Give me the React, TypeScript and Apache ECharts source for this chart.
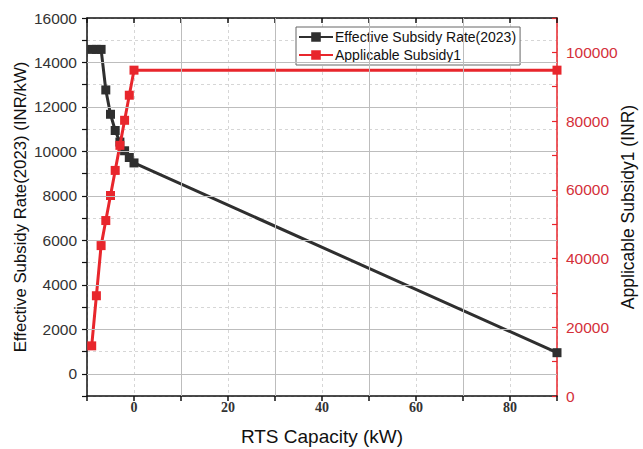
import React, { useEffect, useRef } from "react";
import * as echarts from "echarts";

const capacity = [-9, -8, -7, -6, -5, -4, -3, -2, -1, 0, 90];
const effectiveRate = [14588, 14588, 14588, 12764, 11670, 10941, 10420, 10029, 9725, 9482, 948];
const applicableSubsidy = [14588, 29176, 43764, 51058, 58352, 65646, 72940, 80234, 87528, 94822, 94822];
const majorGridY = [0, 2000, 4000, 6000, 8000, 10000, 12000, 14000];
const majorGridX = [10, 30, 50, 70];

const SANS = "'Liberation Sans', Arial, sans-serif";
const SERIF = "'Liberation Serif', 'Times New Roman', serif";
const BLACK = "#2f2f2f";
const RED = "#e8262c";
const RED_TEXT = "#d4303a";

export default function App() {
  const ref = useRef<HTMLDivElement>(null);
  useEffect(() => {
    if (!ref.current) return;
    const chart = echarts.init(ref.current, null, { renderer: "svg" });
    const pairs = (ys: number[]) => capacity.map((x, i) => [x, ys[i]]);
    chart.setOption({
      animation: false,
      backgroundColor: "#ffffff",
      textStyle: { fontFamily: SANS },
      grid: { left: 87, right: 86, top: 18, bottom: 53, containLabel: false, outerBoundsMode: "none" },
      legend: {
        data: ["Effective Subsidy Rate(2023)", "Applicable Subsidy1"],
        orient: "vertical",
        left: 296,
        top: 27,
        padding: [3, 4, 3, 2],
        itemWidth: 34,
        itemHeight: 12,
        itemGap: 4,
        borderColor: "#666",
        borderWidth: 1,
        backgroundColor: "#ffffff",
        textStyle: { fontSize: 14, color: "#111", fontFamily: SANS, padding: [0, 0, 0, -3] },
      },
      xAxis: [
        {
          type: "value",
          position: "bottom",
          min: -10,
          max: 90,
          interval: 10,
          name: "RTS Capacity (kW)",
          nameLocation: "middle",
          nameGap: 31,
          nameMoveOverlap: false,
          nameTextStyle: { fontSize: 19, color: "#111", fontFamily: SANS },
          axisLine: { onZero: false, lineStyle: { color: "#111", width: 1.5 } },
          axisTick: { show: true, inside: false, length: 5, lineStyle: { color: "#111", width: 1.5 } },
          axisLabel: {
            margin: 4,
            fontSize: 14,
            fontWeight: "bold",
            fontFamily: SERIF,
            color: "#333",
            formatter: (v: number) => (v % 20 === 0 ? String(v) : ""),
          },
          splitLine: { show: true, lineStyle: { color: "#d6d6d6", type: [3, 3], width: 1 } },
        },
        {
          type: "value",
          position: "top",
          min: -10,
          max: 90,
          interval: 10,
          axisLine: { show: true, onZero: false, lineStyle: { color: "#111", width: 1.5 } },
          axisTick: { show: true, inside: true, length: 5, lineStyle: { color: "#111", width: 1.5 } },
          axisLabel: { show: false },
          splitLine: { show: false },
        },
      ],
      yAxis: [
        {
          type: "value",
          position: "left",
          min: -1000,
          max: 16000,
          interval: 1000,
          name: "Effective Subsidy Rate(2023) (INR/kW)",
          nameLocation: "middle",
          nameRotate: 90,
          nameGap: 58,
          nameMoveOverlap: false,
          nameTextStyle: { fontSize: 16.8, color: "#111", fontFamily: SANS },
          axisLine: { show: true, onZero: false, lineStyle: { color: "#111", width: 1.5 } },
          axisTick: { show: true, inside: false, length: 5, lineStyle: { color: "#111", width: 1.2 } },
          axisLabel: {
            margin: 10,
            fontSize: 15.5,
            color: "#333",
            fontFamily: SANS,
            formatter: (v: number) => (v % 2000 === 0 ? String(v) : ""),
          },
          splitLine: { show: true, lineStyle: { color: "#d6d6d6", type: [3, 3], width: 1 } },
        },
        {
          type: "value",
          position: "right",
          min: 0,
          max: 110000,
          interval: 10000,
          name: "Applicable Subsidy1 (INR)",
          nameLocation: "middle",
          nameRotate: 90,
          nameGap: 62,
          nameMoveOverlap: false,
          nameTextStyle: { fontSize: 17.5, color: "#111", fontFamily: SANS },
          axisLine: { show: true, onZero: false, lineStyle: { color: RED, width: 1.5 } },
          axisTick: { show: true, inside: true, length: 5, lineStyle: { color: RED, width: 1.2 } },
          axisLabel: {
            margin: 9,
            fontSize: 15.5,
            color: RED_TEXT,
            fontFamily: SANS,
            formatter: (v: number) => (v % 20000 === 0 ? String(v) : ""),
          },
          splitLine: { show: false },
        },
      ],
      series: [
        {
          name: "grid-major",
          type: "line",
          xAxisIndex: 0,
          yAxisIndex: 0,
          data: [],
          z: 1,
          silent: true,
          markLine: {
            silent: true,
            symbol: ["none", "none"],
            label: { show: false },
            lineStyle: { color: "#bdbdbd", type: "solid", width: 1 },
            data: [
              ...majorGridY.map((v) => ({ yAxis: v })),
              ...majorGridX.map((v) => ({ xAxis: v })),
            ],
          },
        },
        {
          name: "Effective Subsidy Rate(2023)",
          type: "line",
          xAxisIndex: 0,
          yAxisIndex: 0,
          data: pairs(effectiveRate),
          symbol: "rect",
          symbolSize: 9,
          itemStyle: { color: BLACK },
          lineStyle: { color: BLACK, width: 3 },
          z: 3,
        },
        {
          name: "Applicable Subsidy1",
          type: "line",
          xAxisIndex: 0,
          yAxisIndex: 1,
          data: pairs(applicableSubsidy),
          symbol: "rect",
          symbolSize: 9,
          itemStyle: { color: RED },
          lineStyle: { color: RED, width: 3 },
          z: 4,
        },
      ],
    });
    return () => chart.dispose();
  }, []);
  return (
    <div
      ref={ref}
      style={{ position: "absolute", left: 0, top: 0, width: 643, height: 449 }}
    />
  );
}
